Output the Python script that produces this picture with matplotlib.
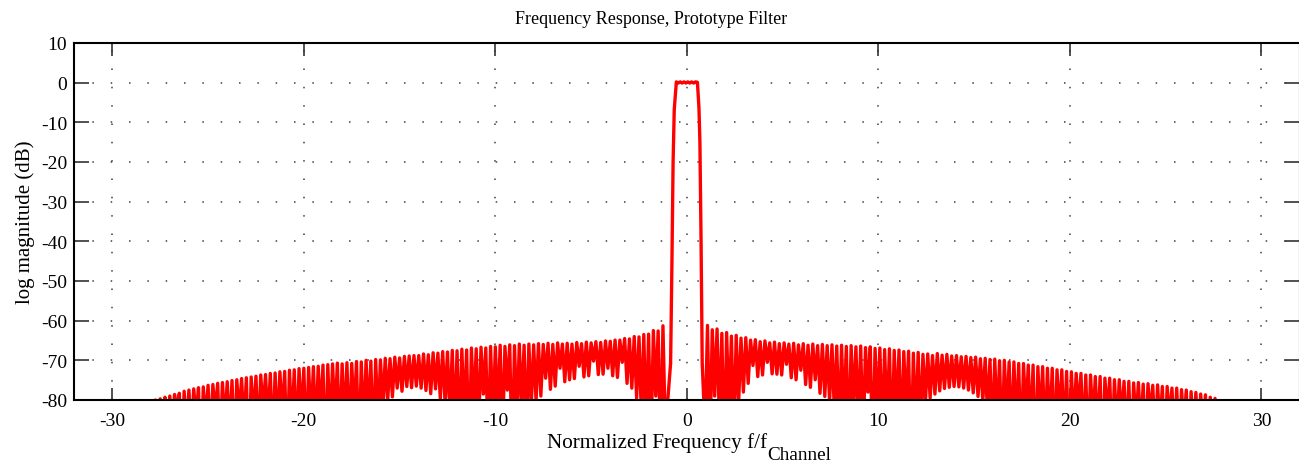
import numpy as np
import matplotlib.pyplot as plt

plt.rcParams['font.family'] = ['Liberation Serif', 'DejaVu Serif']
plt.rcParams['axes.unicode_minus'] = False

# sidelobe spikes (dB), one value every 0.25 in f/f_channel
step = 0.25
left_start = -28.0      # first left peak
right_start = 0.95      # first right trough

left_peaks = [
    -80.5, -80.0, -79.7, -79.3, -79.0, -78.6, -78.3, -77.8,
    -77.5, -77.2, -76.9, -76.7, -76.3, -76.1, -75.8, -75.6,
    -75.4, -75.1, -74.9, -74.6, -74.4, -74.2, -74.0, -73.7,
    -73.6, -73.3, -73.2, -72.9, -72.8, -72.5, -72.4, -72.1,
    -72.0, -71.8, -71.6, -71.5, -71.2, -71.1, -70.9, -70.7,
    -70.9, -70.6, -70.8, -70.3, -70.4, -70.0, -70.2, -69.8,
    -69.9, -69.5, -69.6, -69.2, -69.4, -69.0, -68.9, -68.8,
    -68.8, -68.4, -68.6, -68.1, -68.2, -67.8, -67.9, -67.5,
    -67.6, -67.2, -67.4, -66.9, -67.1, -66.7, -66.9, -66.5,
    -66.6, -66.2, -66.5, -66.1, -66.3, -65.9, -66.2, -65.9,
    -66.1, -65.8, -66.0, -65.7, -66.0, -65.6, -65.9, -65.7,
    -65.9, -65.5, -65.8, -65.4, -65.6, -65.3, -65.5, -65.1,
    -65.2, -64.9, -64.9, -64.5, -64.6, -64.0, -64.1, -63.5,
    -63.4, -62.5, -62.6, -61.3,
]
left_troughs = [
    -84, -88, -83, -91, -86, -82, -95, -87,
    -89, -84, -97, -85, -90, -83, -92, -86,
    -88, -94, -84, -87, -99, -85, -90, -83,
    -86, -92, -88, -84, -95, -87, -91, -85,
    -93, -86, -89, -84, -97, -88, -85, -92,
    -87, -90, -84, -96, -88, -85, -93, -86,
    -82, -80.4, -79.2, -77.0, -77.8, -76.6, -76.9, -76.5,
    -77.0, -77.6, -78.4, -77.2, -79.6, -80.8, -84, -88,
    -91, -85, -96, -83, -88, -78.5, -93, -86,
    -84, -90, -77.5, -95, -86, -82, -89, -81.5,
    -80.3, -79.0, -74.5, -77.3, -76.5, -72.0, -75.4, -74.9,
    -74.6, -71.5, -74.2, -73.9, -70.2, -73.6, -73.5, -72.0,
    -73.9, -74.3, -70.5, -75.8, -77.0, -79.5, -84, -88,
    -92, -79, -95, -88,
]

# passband and transition bands
band_x = [-0.85, -0.78, -0.72, -0.66, -0.55, -0.45, -0.35, -0.25, -0.15, -0.05,
          0.05, 0.15, 0.25, 0.35, 0.45, 0.55, 0.63, 0.68, 0.74, 0.80]
band_db = [-70.7, -45.0, -20.0, -6.8, 0.2, -0.1, 0.2, -0.1, 0.2, -0.1,
           0.2, -0.1, 0.2, -0.1, 0.2, 0.1, -6.3, -15.0, -40.0, -70.7]

right_troughs = [
    -88, -93, -79, -86, -95, -84, -90, -81,
    -78.0, -75.8, -71.3, -74.1, -73.7, -70.5, -73.4, -73.5,
    -73.7, -71.0, -74.4, -74.9, -72.5, -76.1, -76.8, -74.9,
    -78.3, -79.1, -80.2, -83, -89, -85, -94, -82,
    -87, -92, -78.0, -96, -84, -89, -86, -93,
    -85, -91, -83, -97, -88, -88, -81, -79.5,
    -78.5, -77.7, -77.1, -76.8, -76.6, -76.7, -77.0, -77.5,
    -78.2, -79.1, -80.2, -84, -90, -86, -93, -85,
    -91, -87, -95, -84, -89, -98, -86, -92,
    -88, -94, -85, -90, -96, -87, -83, -91,
    -93, -86, -89, -97, -84, -92, -88, -85,
    -90, -95, -86, -88, -93, -84, -91, -87,
    -94, -85, -89, -92, -86, -96, -88, -90,
    -87, -93, -89, -91,
]
right_peaks = [
    -61.2, -62.3, -62.1, -63.2, -63.0, -63.9, -63.7, -64.4,
    -64.3, -64.9, -64.8, -65.3, -65.1, -65.6, -65.4, -65.8,
    -65.6, -65.9, -65.7, -66.1, -65.8, -66.2, -65.9, -66.3,
    -66.0, -66.3, -66.1, -66.4, -66.2, -66.5, -66.3, -66.6,
    -66.4, -66.8, -66.6, -67.0, -66.9, -67.3, -67.1, -67.5,
    -67.4, -67.8, -67.7, -68.2, -68.0, -68.5, -68.4, -68.8,
    -68.3, -68.7, -68.5, -68.9, -68.8, -69.1, -69.0, -69.3,
    -69.2, -69.6, -69.5, -69.8, -69.7, -70.1, -70.0, -70.4,
    -70.4, -70.8, -70.8, -71.2, -71.2, -71.6, -71.6, -72.0,
    -72.0, -72.4, -72.4, -72.8, -72.9, -73.3, -73.3, -73.7,
    -73.7, -74.1, -74.1, -74.5, -74.5, -74.9, -74.9, -75.3,
    -75.3, -75.7, -75.6, -76.0, -75.9, -76.3, -76.2, -76.6,
    -76.6, -77.0, -77.0, -77.4, -77.5, -77.9, -78.1, -78.5,
    -78.7, -79.3, -79.6, -80.3,
]


def zigzag(first, second, x0):
    n = len(first)
    idx = np.arange(n)
    x = np.empty(2 * n)
    y = np.empty(2 * n)
    x[0::2] = x0 + step * idx
    x[1::2] = x0 + step / 2 + step * idx
    y[0::2] = first
    y[1::2] = second
    return x, y


xl, yl = zigzag(left_peaks, left_troughs, left_start)
xr, yr = zigzag(right_troughs, right_peaks, right_start)
freq = np.concatenate([xl, band_x, xr])
mag = np.concatenate([yl, band_db, yr])

fig = plt.figure(figsize=(12.99, 4.64), dpi=100)
ax = fig.add_axes([74 / 1299, 63 / 464, 1.0006 - 74 / 1299, 357 / 464])

ax.plot(freq, mag, color="red", linewidth=2.4)

ax.set_xlim(-32, 32)
ax.set_ylim(-80, 10)
ax.set_xticks(np.arange(-30, 31, 10))
ax.set_yticks(np.arange(-80, 11, 10))
ax.tick_params(axis="both", direction="in", top=True, right=True,
               labelsize=14, width=1.2, color="#333333")
ax.tick_params(axis="x", length=9, pad=9)
ax.tick_params(axis="y", length=11, pad=5)
for s in ax.spines.values():
    s.set_linewidth(1.5)

ax.grid(True, color="#404040", linestyle=(0, (1, 11)), linewidth=1.1)

ax.set_ylabel("log magnitude (dB)", fontsize=15, labelpad=4)
fig.text(651 / 1299, 1 - 20 / 464, "Frequency Response, Prototype Filter",
         ha="center", va="center", fontsize=13)
fig.text(767 / 1299, 1 - 443 / 464, "Normalized Frequency f/f",
         ha="right", va="center", fontsize=15.2)
fig.text(767 / 1299, 1 - 456 / 464, "Channel",
         ha="left", va="center", fontsize=13.8)

fig.savefig("out.png", dpi=100)
